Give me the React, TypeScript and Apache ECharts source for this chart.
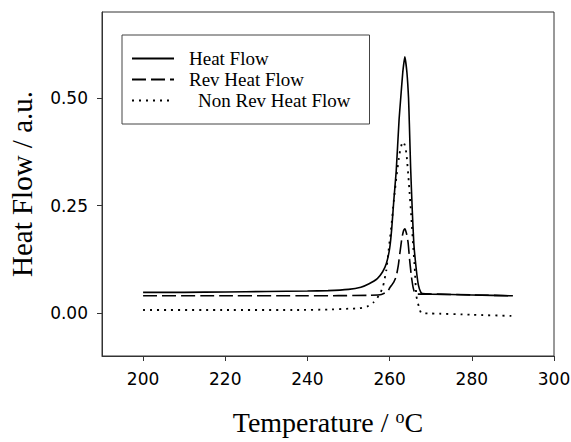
import React, { useEffect, useRef } from "react";
import * as echarts from "echarts";

// Heat Flow (total)
const heatFlowT = [200, 210, 220, 230, 240, 245, 250, 253, 255, 257, 258.3, 259.2, 260, 260.5, 261, 261.6, 262.3, 262.7, 263.2, 263.7, 264.2, 264.6, 264.8, 265.1, 265.5, 265.9, 266.5, 267.0, 267.6, 268, 270, 280, 290];
const heatFlowY = [0.048, 0.048, 0.049, 0.05, 0.051, 0.052, 0.055, 0.06, 0.068, 0.08, 0.096, 0.115, 0.15, 0.195, 0.26, 0.33, 0.45, 0.5, 0.56, 0.596, 0.56, 0.5, 0.44, 0.34, 0.24, 0.16, 0.1, 0.065, 0.048, 0.045, 0.044, 0.042, 0.04];

// Reversing Heat Flow
const revT = [200, 220, 240, 255, 258, 259.5, 260, 261, 261.6, 262.1, 262.5, 263, 263.4, 263.7, 264.1, 264.5, 264.9, 265.3, 265.7, 266.1, 266.8, 270, 280, 290];
const revY = [0.04, 0.04, 0.04, 0.041, 0.043, 0.05, 0.058, 0.072, 0.085, 0.11, 0.14, 0.175, 0.192, 0.196, 0.185, 0.163, 0.12, 0.085, 0.06, 0.047, 0.044, 0.044, 0.042, 0.04];

// Non-Reversing Heat Flow
const nonRevT = [200, 220, 238, 245, 250, 252.7, 254.5, 256, 257, 257.8, 258.4, 259.2, 259.8, 260.4, 261, 261.7, 262.4, 263.0, 263.3, 263.7, 264.1, 264.7, 265.3, 265.7, 266.1, 266.5, 267.1, 267.7, 270, 280, 290];
const nonRevY = [0.007, 0.007, 0.007, 0.008, 0.01, 0.011, 0.015, 0.024, 0.035, 0.048, 0.062, 0.1, 0.15, 0.2, 0.26, 0.32, 0.37, 0.395, 0.398, 0.39, 0.37, 0.3, 0.22, 0.16, 0.105, 0.04, 0.015, 0.0, -0.001, -0.004, -0.007];

const seriesNames = ["Heat Flow", "Rev Heat Flow", "Non Rev Heat Flow"];
const xTicks = [200, 220, 240, 260, 280, 300];
const yTicks = [0, 0.25, 0.5];

const zip = (xs: number[], ys: number[]) => xs.map((x, i) => [x, ys[i]]);

export default function App() {
  const ref = useRef<HTMLDivElement>(null);
  useEffect(() => {
    document.body.style.margin = "0";
    if (!ref.current) return;
    const chart = echarts.init(ref.current, null, { renderer: "svg" });
    const sans = "DejaVu Sans";
    const serif = "Liberation Serif";
    const line = (name: string, xs: number[], ys: number[], type: any, width: number) => ({
      name,
      type: "line",
      data: zip(xs, ys),
      symbol: "none",
      smooth: 0.15,
      lineStyle: { color: "#000", width, type },
      itemStyle: { color: "#000" },
    });
    chart.setOption({
      animation: false,
      backgroundColor: "#fff",
      grid: {
        left: 102,
        top: 12,
        right: 17,
        bottom: 86,
        show: true,
        borderColor: "#333",
        borderWidth: 1,
        outerBoundsMode: "none",
      },
      legend: {
        orient: "vertical",
        left: 122,
        top: 35,
        data: seriesNames,
        borderColor: "#444",
        borderWidth: 1,
        padding: [14, 19, 14, 9],
        itemWidth: 42,
        itemHeight: 14,
        itemGap: 2,
        itemStyle: { color: "transparent", borderWidth: 0, opacity: 0 },
        formatter: (name: string) =>
          name === "Non Rev Heat Flow" ? "{w|}{t|" + name + "}" : "{n|}{t|" + name + "}",
        textStyle: {
          fontFamily: serif,
          fontSize: 19,
          color: "#000",
          rich: {
            n: { width: 10 },
            w: { width: 19 },
            t: { fontFamily: serif, fontSize: 19, color: "#000", lineHeight: 20 },
          },
        },
      },
      xAxis: {
        type: "value",
        min: 190,
        max: 300,
        name: "Temperature / {sup|o}C",
        nameLocation: "middle",
        nameGap: 52,
        nameTextStyle: {
          fontFamily: serif,
          fontSize: 28,
          color: "#000",
          rich: {
            sup: { fontFamily: serif, fontSize: 18, color: "#000", verticalAlign: "top", lineHeight: 18 },
          },
        },
        axisLine: { show: true, onZero: false, lineStyle: { color: "#333", width: 1 } },
        axisTick: { show: true, length: 5, customValues: xTicks, lineStyle: { color: "#333" } },
        axisLabel: {
          customValues: xTicks,
          margin: 14,
          fontFamily: sans,
          fontSize: 17,
          color: "#000",
        },
        splitLine: { show: false },
      },
      yAxis: {
        type: "value",
        min: -0.1,
        max: 0.7,
        name: "Heat Flow / a.u.",
        nameLocation: "middle",
        nameRotate: 90,
        nameGap: 66,
        nameTextStyle: { fontFamily: serif, fontSize: 29, color: "#000" },
        axisLine: { show: true, onZero: false, lineStyle: { color: "#333", width: 1 } },
        axisTick: { show: true, length: 5, customValues: yTicks, lineStyle: { color: "#333" } },
        axisLabel: {
          customValues: yTicks,
          margin: 14,
          fontFamily: sans,
          fontSize: 17,
          color: "#000",
          formatter: (v: number) => v.toFixed(2),
        },
        splitLine: { show: false },
      },
      series: [
        line(seriesNames[0], heatFlowT, heatFlowY, "solid", 1.6),
        line(seriesNames[1], revT, revY, [14, 5], 1.6),
        line(seriesNames[2], nonRevT, nonRevY, [2, 5], 1.8),
      ],
    });
    return () => chart.dispose();
  }, []);
  return <div ref={ref} style={{ width: 571, height: 442 }} />;
}
